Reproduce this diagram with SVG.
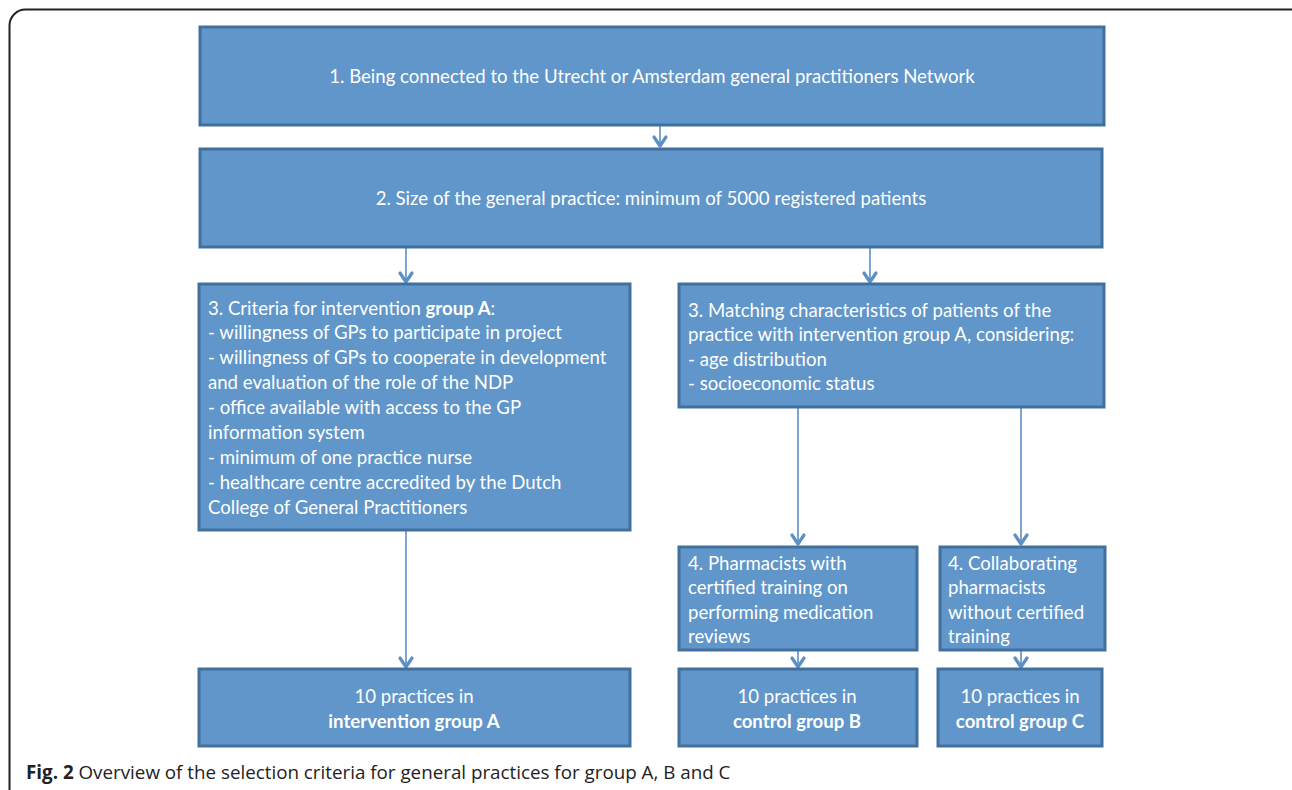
<svg xmlns="http://www.w3.org/2000/svg" width="1292" height="790" viewBox="0 0 1292 790">
<style>
.box{fill:#6096c9;stroke:#41709f;stroke-width:3}
.t{font-family:Lato,"Liberation Sans",sans-serif;font-size:18.6px;fill:#ffffff}
.c{text-anchor:middle}
.b{font-weight:bold}
.ln{stroke:#5b8fc6;stroke-width:1.6;fill:none}
.hd{stroke:#5b8fc6;stroke-width:3.2;fill:none;stroke-linecap:round;stroke-linejoin:round}
.cap{font-family:"Open Sans","Liberation Sans",sans-serif;font-size:18.8px;fill:#222}
</style>
<rect x="0" y="0" width="1292" height="790" fill="#ffffff"/>
<rect x="9.5" y="9.5" width="1300" height="820" rx="16" fill="none" stroke="#222" stroke-width="2"/>
<g id="connectors">
<line class="ln" x1="660" y1="126" x2="660" y2="146"/><path class="hd" d="M654 137 L660 146 L666 137"/>
<line class="ln" x1="406" y1="248" x2="406" y2="282"/><path class="hd" d="M400 273 L406 282 L412 273"/>
<line class="ln" x1="870" y1="248" x2="870" y2="282"/><path class="hd" d="M864 273 L870 282 L876 273"/>
<line class="ln" x1="406" y1="531" x2="406" y2="667"/><path class="hd" d="M400 658 L406 667 L412 658"/>
<line class="ln" x1="798" y1="408" x2="798" y2="544"/><path class="hd" d="M792 535 L798 544 L804 535"/>
<line class="ln" x1="1021" y1="408" x2="1021" y2="544"/><path class="hd" d="M1015 535 L1021 544 L1027 535"/>
<line class="ln" x1="798" y1="651" x2="798" y2="667"/><path class="hd" d="M792 658 L798 667 L804 658"/>
<line class="ln" x1="1021" y1="651" x2="1021" y2="667"/><path class="hd" d="M1015 658 L1021 667 L1027 658"/>
</g>
<g id="n1"><rect class="box" x="200" y="27" width="904" height="98"/>
<text class="t c" x="652" y="83">1. Being connected to the Utrecht or Amsterdam general practitioners Network</text></g>
<g id="n2"><rect class="box" x="200" y="149" width="902" height="98"/>
<text class="t c" x="651" y="205">2. Size of the general practice: minimum of 5000 registered patients</text></g>
<g id="n3a"><rect class="box" x="199" y="284" width="431" height="246"/>
<text class="t" x="208" y="315">3. Criteria for intervention <tspan class="b">group A</tspan>:</text>
<text class="t" x="208" y="339">- willingness of GPs to participate in project</text>
<text class="t" x="208" y="364">- willingness of GPs to cooperate in development</text>
<text class="t" x="208" y="389">and evaluation of the role of the NDP</text>
<text class="t" x="208" y="414">- office available with access to the GP</text>
<text class="t" x="208" y="439">information system</text>
<text class="t" x="208" y="464">- minimum of one practice nurse</text>
<text class="t" x="208" y="489">- healthcare centre accredited by the Dutch</text>
<text class="t" x="208" y="514">College of General Practitioners</text></g>
<g id="n3b"><rect class="box" x="679" y="284" width="425" height="123"/>
<text class="t" x="688" y="317">3. Matching characteristics of patients of the</text>
<text class="t" x="688" y="341">practice with intervention group A, considering:</text>
<text class="t" x="688" y="366">- age distribution</text>
<text class="t" x="688" y="390">- socioeconomic status</text></g>
<g id="n4b"><rect class="box" x="679" y="547" width="238" height="103"/>
<text class="t" x="688" y="570">4. Pharmacists with</text>
<text class="t" x="688" y="594">certified training on</text>
<text class="t" x="688" y="619">performing medication</text>
<text class="t" x="688" y="643">reviews</text></g>
<g id="n4c"><rect class="box" x="940" y="547" width="165" height="103"/>
<text class="t" x="948" y="570">4. Collaborating</text>
<text class="t" x="948" y="594">pharmacists</text>
<text class="t" x="948" y="619">without certified</text>
<text class="t" x="948" y="643">training</text></g>
<g id="n5a"><rect class="box" x="199" y="669" width="431" height="77"/>
<text class="t c" x="414" y="703">10 practices in</text>
<text class="t c b" x="414" y="728">intervention group A</text></g>
<g id="n5b"><rect class="box" x="679" y="669" width="238" height="77"/>
<text class="t c" x="797" y="703">10 practices in</text>
<text class="t c b" x="797" y="728">control group B</text></g>
<g id="n5c"><rect class="box" x="938" y="669" width="164" height="77"/>
<text class="t c" x="1020" y="703">10 practices in</text>
<text class="t c b" x="1020" y="728">control group C</text></g>
<text class="cap" x="26" y="779"><tspan font-weight="bold">Fig. 2</tspan> Overview of the selection criteria for general practices for group A, B and C</text>
</svg>
